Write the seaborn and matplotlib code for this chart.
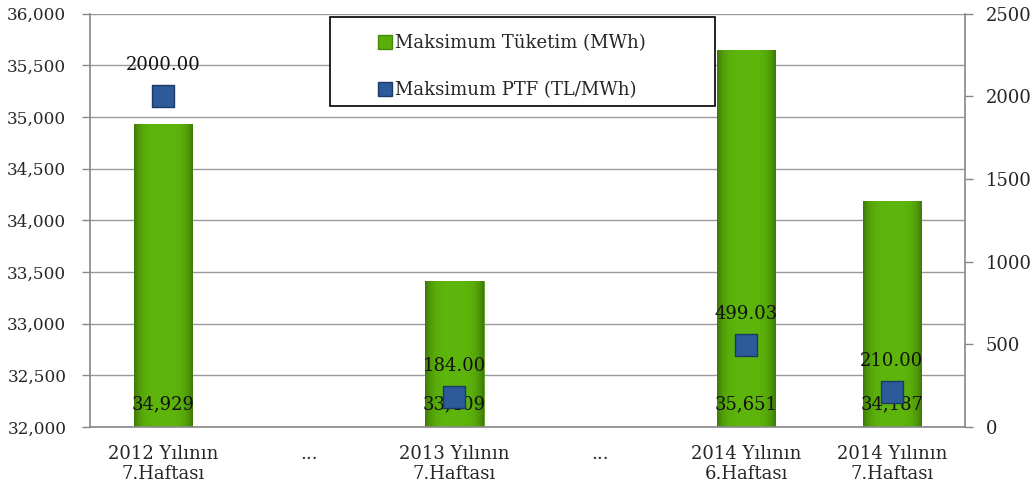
import numpy as np
import pandas as pd
import matplotlib.pyplot as plt
import seaborn as sns
from matplotlib.lines import Line2D
from matplotlib.patches import Rectangle
from matplotlib.ticker import FuncFormatter, FixedLocator

sns.set_theme(style="white")
plt.rcParams['font.family'] = ['DejaVu Serif']

# Data
keys = ['2012-7', 'gap1', '2013-7', 'gap2', '2014-6', '2014-7']
tick_labels = ['2012 Yılının\n7.Haftası', '...', '2013 Yılının\n7.Haftası', '...',
               '2014 Yılının\n6.Haftası', '2014 Yılının\n7.Haftası']
tuketim = [34929, np.nan, 33409, np.nan, 35651, 34187]   # Maksimum Tüketim (MWh)
ptf = [2000.00, np.nan, 184.00, np.nan, 499.03, 210.00]   # Maksimum PTF (TL/MWh)

df = pd.DataFrame({'hafta': keys, 'tuketim': tuketim, 'ptf': ptf})

fig, ax = plt.subplots(figsize=(10.34, 4.92), dpi=100)
fig.subplots_adjust(left=0.087, right=0.933, top=0.972, bottom=0.132)

green = '#5aae0a'
sns.barplot(data=df, x='hafta', y='tuketim', order=keys, color=green,
            width=0.40, saturation=1, ax=ax, zorder=2)

# horizontal gradient on the bars
grad = np.linspace(-1, 1, 101)
shade = 1.04 - 0.34 * np.abs(grad) ** 4
base = np.array([0x5a, 0xae, 0x0a]) / 255
img = np.clip(shade[None, :, None] * base[None, None, :], 0, 1)
ax.set_ylim(32000, 36000)
ax.set_xlim(-0.5, len(keys) - 0.5)
for p in list(ax.patches):
    if np.isnan(p.get_height()) or p.get_height() == 0:
        continue
    x0, w = p.get_x(), p.get_width()
    top = p.get_y() + p.get_height()
    im = ax.imshow(img, extent=(x0, x0 + w, 32000, top), aspect='auto', zorder=2.1,
                   origin='lower', interpolation='bilinear')
    im.set_clip_path(p)
    p.set_edgecolor('#4a900a')
    p.set_linewidth(0.5)
ax.set_ylim(32000, 36000)
ax.set_xlim(-0.5, len(keys) - 0.5)

# left axis
ax.yaxis.set_major_locator(FixedLocator(np.arange(32000, 36001, 500)))
ax.yaxis.set_major_formatter(FuncFormatter(lambda v, _: f'{v:,.0f}'))
ax.grid(axis='y', color='#9a9a9a', linewidth=1)
ax.set_axisbelow(True)
ax.set_xlabel('')
ax.set_ylabel('')
ax.set_xticks(range(len(keys)))
ax.set_xticklabels(tick_labels, fontsize=13, linespacing=1.1)
ax.set_xticks(np.arange(-0.5, len(keys)), minor=True)
ax.tick_params(axis='x', which='major', length=0, pad=13)
ax.tick_params(axis='x', which='minor', length=6, color='#888888', width=1, direction='out')
ax.tick_params(axis='y', length=6, color='#888888', width=1, direction='out',
               labelsize=12.2, left=True, pad=11)
for s in ['left', 'bottom']:
    ax.spines[s].set_color('#888888')
    ax.spines[s].set_linewidth(1.2)
ax.spines['top'].set_visible(False)
ax.spines['right'].set_visible(False)

# bar value labels near the base
for i, v in enumerate(tuketim):
    if np.isnan(v):
        continue
    ax.annotate(f'{v:,.0f}', xy=(i, 32000), xytext=(0, 23), textcoords='offset pixels',
                ha='center', va='center', fontsize=13, color='#111111', zorder=3)

# right axis with PTF markers
ax2 = ax.twinx()
sns.stripplot(data=df, x='hafta', y='ptf', order=keys, jitter=False, marker='s',
              size=15.5, color='#2c5a9a', edgecolor='#1b3a66', linewidth=1,
              ax=ax2, zorder=4)
ax2.set_ylim(0, 2500)
ax2.set_xlim(-0.5, len(keys) - 0.5)
ax2.set_ylabel('')
ax2.set_xlabel('')
ax2.yaxis.set_major_locator(FixedLocator(np.arange(0, 2501, 500)))
ax2.yaxis.set_major_formatter(FuncFormatter(lambda v, _: f'{v:.0f}'))
ax2.tick_params(axis='y', length=6, color='#888888', width=1, direction='out',
                labelsize=13, right=True, pad=9)
ax2.grid(False)
for s in ['left', 'bottom', 'top']:
    ax2.spines[s].set_visible(False)
ax2.spines['right'].set_color('#888888')
ax2.spines['right'].set_linewidth(1.2)

for i, v in enumerate(ptf):
    if np.isnan(v):
        continue
    ax2.annotate(f'{v:.2f}', xy=(i, v), xytext=(0, 31), textcoords='offset pixels',
                 ha='center', va='center', fontsize=13, color='#111111', zorder=5)

# legend box
ax2.add_patch(Rectangle((0.274, 0.777), 0.44, 0.216, transform=ax2.transAxes,
                        facecolor='white', edgecolor='black', linewidth=1.2,
                        zorder=6, clip_on=False))
handles = [
    Line2D([], [], marker='s', linestyle='none', markersize=9.5, color=green,
           markeredgecolor='#468a08'),
    Line2D([], [], marker='s', linestyle='none', markersize=9.5, color='#2c5a9a',
           markeredgecolor='#1b3a66'),
]
leg = ax2.legend(handles, ['Maksimum Tüketim (MWh)', 'Maksimum PTF (TL/MWh)'],
                 loc='center', bbox_to_anchor=(0.482, 0.872), frameon=False,
                 fontsize=13, handletextpad=0.1, labelspacing=1.6,
                 handlelength=0.9)
leg.set_zorder(7)

fig.savefig('out.png', dpi=100)
